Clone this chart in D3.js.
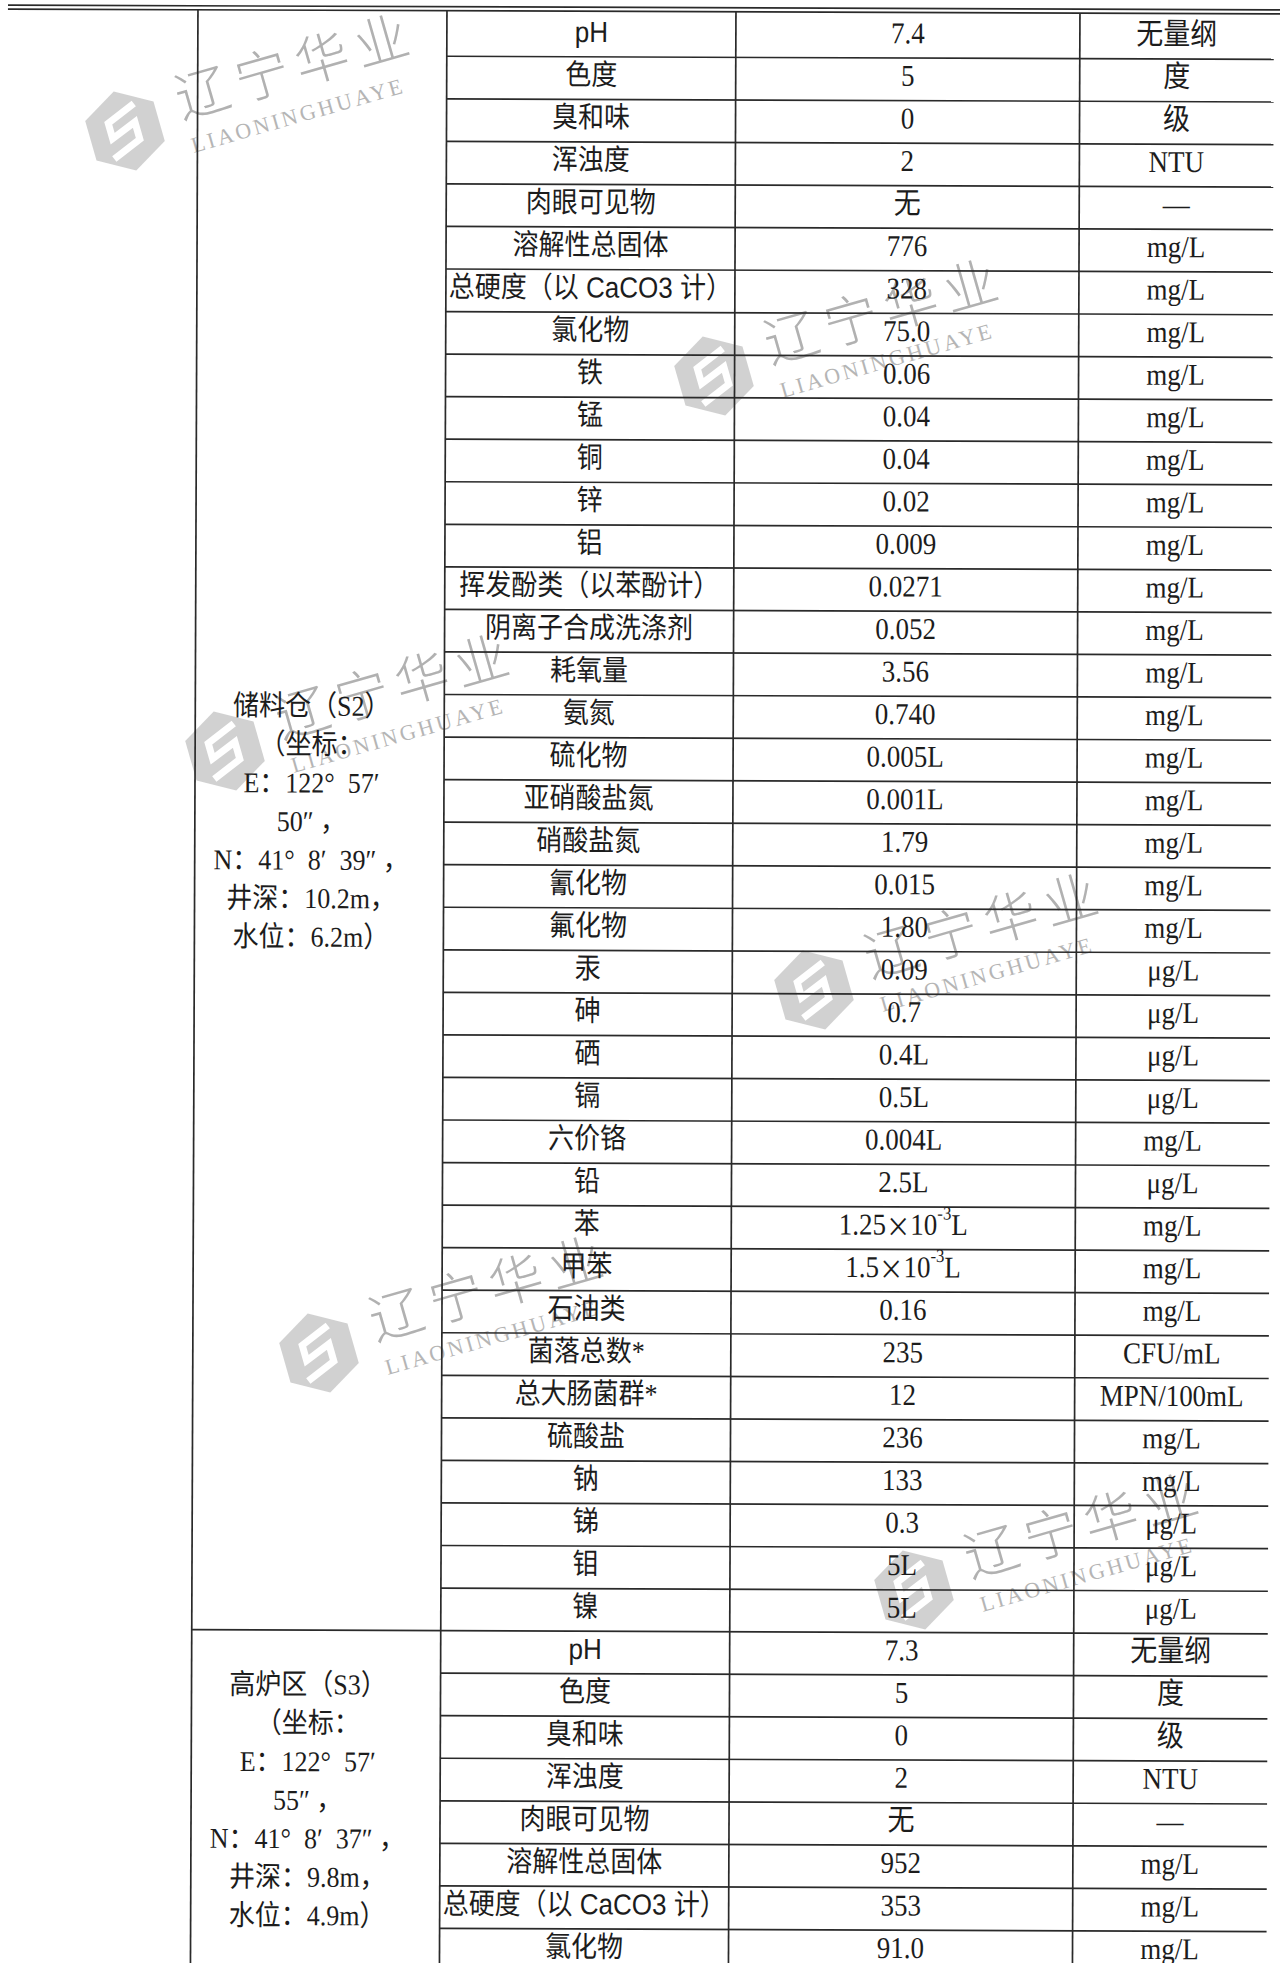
<!DOCTYPE html>
<html>
<head>
<meta charset="utf-8">
<script src="https://cdn.jsdelivr.net/npm/d3@7"></script>
<style>
  body { margin: 0; background: #fff; }
  svg { display: block; }
  text { white-space: pre; }
</style>
</head>
<body>
<div id="chart"></div>
<script>
const s2Params = ["pH", "色度", "臭和味", "浑浊度", "肉眼可见物", "溶解性总固体", "总硬度（以 CaCO3 计）", "氯化物",
  "铁", "锰", "铜", "锌", "铝", "挥发酚类（以苯酚计）", "阴离子合成洗涤剂", "耗氧量", "氨氮", "硫化物",
  "亚硝酸盐氮", "硝酸盐氮", "氰化物", "氟化物", "汞", "砷", "硒", "镉", "六价铬", "铅", "苯", "甲苯",
  "石油类", "菌落总数*", "总大肠菌群*", "硫酸盐", "钠", "锑", "钼", "镍"];
const s2Values = ["7.4", "5", "0", "2", "无", "776", "328", "75.0", "0.06", "0.04", "0.04", "0.02", "0.009",
  "0.0271", "0.052", "3.56", "0.740", "0.005L", "0.001L", "1.79", "0.015", "1.80", "0.09", "0.7", "0.4L",
  "0.5L", "0.004L", "2.5L", "1.25×10^-3L", "1.5×10^-3L", "0.16", "235", "12", "236", "133", "0.3", "5L", "5L"];
const s2Units = ["无量纲", "度", "级", "NTU", "—", "mg/L", "mg/L", "mg/L", "mg/L", "mg/L", "mg/L", "mg/L", "mg/L",
  "mg/L", "mg/L", "mg/L", "mg/L", "mg/L", "mg/L", "mg/L", "mg/L", "mg/L", "μg/L", "μg/L", "μg/L", "μg/L",
  "mg/L", "μg/L", "mg/L", "mg/L", "mg/L", "CFU/mL", "MPN/100mL", "mg/L", "mg/L", "μg/L", "μg/L", "μg/L"];

const s3Params = ["pH", "色度", "臭和味", "浑浊度", "肉眼可见物", "溶解性总固体", "总硬度（以 CaCO3 计）", "氯化物"];
const s3Values = ["7.3", "5", "0", "2", "无", "952", "353", "91.0"];
const s3Units = ["无量纲", "度", "级", "NTU", "—", "mg/L", "mg/L", "mg/L"];

const s2Site = ["储料仓（S2）", "（坐标：", "E：122°  57′", "50″ ，", "N：41°  8′  39″ ，", "井深：10.2m，", "水位：6.2m）"];
const s3Site = ["高炉区（S3）", "（坐标：", "E：122°  57′", "55″ ，", "N：41°  8′  37″ ，", "井深：9.8m，", "水位：4.9m）"];

const columns = ["site", "param", "value", "unit"];

// ---- layout ----
const width = 1280, height = 1963;
const rowH = 42.55, tableTop = 12;
const colLeft = [198, 447, 736, 1080], rightEdge = 1274;
const ink = "#1c1c1c";
const serif = "'Liberation Serif', 'Noto Sans CJK SC', serif";
const sans = "'Liberation Sans Narrow', 'Liberation Sans', 'Noto Sans CJK SC', sans-serif";

const rows = s2Params.map((p, i) => ({ site: "S2", param: p, value: s2Values[i], unit: s2Units[i] }))
  .concat(s3Params.map((p, i) => ({ site: "S3", param: p, value: s3Values[i], unit: s3Units[i] })));
const blocks = [
  { site: "S2", lines: s2Site, start: 0, n: s2Params.length },
  { site: "S3", lines: s3Site, start: s2Params.length, n: s3Params.length }
];

const y = d3.scaleLinear().domain([0, rows.length]).range([tableTop, tableTop + rows.length * rowH]);
const x = d3.scaleOrdinal().domain(columns).range(colLeft);
const colW = c => { const i = columns.indexOf(c); return (i < 3 ? colLeft[i + 1] : rightEdge) - colLeft[i]; };
const cx = c => x(c) + colW(c) / 2;

const svg = d3.select("#chart").append("svg").attr("width", width).attr("height", height)
  .style("background", "#fff");

// ---- watermarks (drawn first, table text sits on top) ----
const wmPos = [[125, 131], [714, 376], [225, 751], [814, 990], [319, 1353], [914, 1590]];
const wm = svg.append("g").attr("class", "watermarks");
wmPos.forEach(([px, py]) => {
  const g = wm.append("g").attr("transform", `translate(${px},${py}) rotate(-16)`);
  const r = 41;
  const hex = d3.range(6).map(k => {
    const a = (Math.PI / 3) * k - Math.PI / 2;
    return [r * Math.cos(a), r * Math.sin(a)];
  });
  g.append("path").attr("d", "M" + hex.join("L") + "Z").attr("fill", "#c9c9c9").attr("opacity", 0.85);
  g.append("path")
    .attr("d", "M16,-24 L-14,-12 L-14,4 L12,-6 L12,12 L-18,24")
    .attr("fill", "none").attr("stroke", "#fff").attr("stroke-width", 7).attr("stroke-linejoin", "miter");
  g.append("text").attr("x", 58).attr("y", 4)
    .attr("font-family", "'Noto Sans CJK SC'").attr("font-weight", 300).attr("font-size", 54)
    .attr("letter-spacing", 8).attr("fill", "#a4a4a4").attr("opacity", 0.85).text("辽宁华业");
  g.append("text").attr("x", 60).attr("y", 40)
    .attr("font-family", serif).attr("font-size", 22).attr("letter-spacing", 3)
    .attr("fill", "#a9a9a9").attr("opacity", 0.85).text("LIAONINGHUAYE");
});

// ---- table (scan is slightly rotated) ----
const table = svg.append("g").attr("transform", "rotate(0.22)");
const lines = table.append("g").attr("stroke", "#2a2a2a").attr("stroke-width", 1.7);

// top double rule
[5, 9].forEach(yy => lines.append("line").attr("x1", 8).attr("x2", width + 10).attr("y1", yy).attr("y2", yy));

// vertical rules
columns.forEach(c => lines.append("line").attr("x1", x(c)).attr("x2", x(c))
  .attr("y1", y(0) - 3).attr("y2", height + 20));

// horizontal row rules (param/value/unit columns)
lines.selectAll(".row-rule").data(d3.range(1, rows.length + 1)).enter().append("line")
  .attr("class", "row-rule")
  .attr("x1", d => blocks.some(b => b.start === d) ? x("site") : x("param"))
  .attr("x2", rightEdge)
  .attr("y1", d => y(d)).attr("y2", d => y(d));

// "a×10^-3L" -> tspans with a raised exponent
function richText(sel, str) {
  const parts = str.split(/(\^-?\d+|×)/).filter(Boolean);
  let pending = 0;
  parts.forEach(p => {
    const t = sel.append("tspan");
    if (p.startsWith("^")) {
      t.attr("dy", -10).attr("font-size", "0.62em").text(p.slice(1));
      pending = 10;
      return;
    }
    if (pending) { t.attr("dy", pending); pending = 0; }
    if (p === "×") t.attr("font-family", "'Noto Sans CJK SC'").attr("font-size", "0.9em");
    t.text(p);
  });
}

const cellFont = (c, s) => {
  if (c === "param" && /pH|CaCO3/.test(s)) return sans;
  return serif;
};

const cells = table.append("g").attr("fill", ink);
rows.forEach((r, i) => {
  ["param", "value", "unit"].forEach(c => {
    const t = cells.append("text")
      .attr("transform", `translate(${cx(c)},${y(i) + rowH / 2 - 4}) scale(1,1.12)`)
      .attr("text-anchor", "middle").attr("dominant-baseline", "central")
      .attr("font-family", cellFont(c, r[c]))
      .attr("font-size", c === "param" ? 26 : 27);
    richText(t, r[c]);
  });
});

// merged site cells
blocks.forEach(b => {
  const mid = y(b.start + b.n / 2);
  const lh = 38.5;
  const g = table.append("g").attr("fill", ink);
  b.lines.forEach((l, k) => {
    g.append("text")
      .attr("transform", `translate(${cx("site") - 8},${mid + (k - (b.lines.length - 1) / 2) * lh}) scale(1,1.1)`)
      .attr("text-anchor", "middle").attr("dominant-baseline", "central")
      .attr("font-family", serif).attr("font-size", 26).text(l);
  });
});
</script>
</body>
</html>
